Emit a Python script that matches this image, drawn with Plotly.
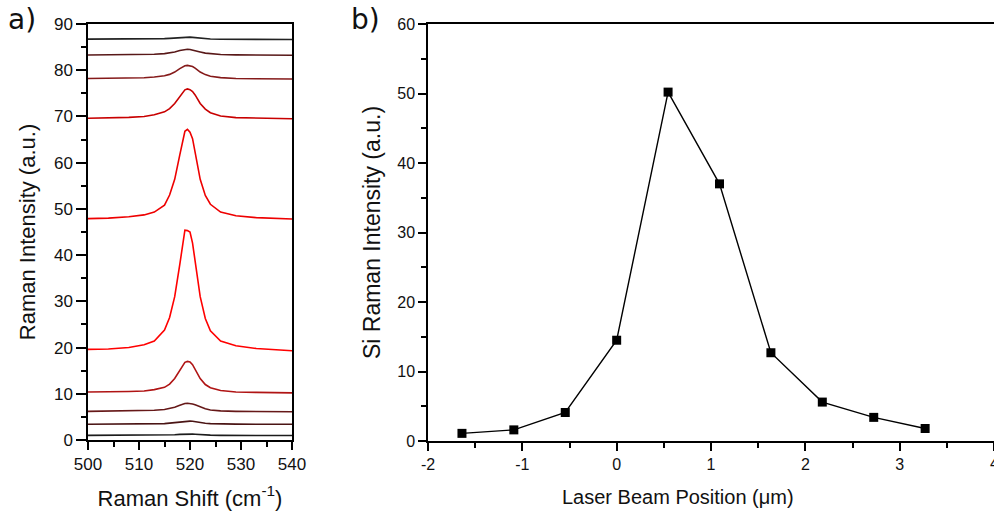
import plotly.graph_objects as go

# ---------- Panel a: Raman spectra (offset stack) ----------
shift = [500, 504, 508, 511, 513, 515, 516, 517, 518, 518.5, 519, 519.5,
         520, 520.5, 521, 522, 523, 524, 526, 529, 533, 537, 540]

spec1 = [1.0, 1.0, 1.0, 1.02, 1.04, 1.07, 1.1, 1.15, 1.22, 1.26, 1.29, 1.3,
         1.29, 1.27, 1.23, 1.15, 1.08, 1.05, 1.0, 0.98, 0.97, 0.96, 0.96]
spec2 = [3.4, 3.4, 3.45, 3.45, 3.5, 3.55, 3.65, 3.75, 3.95, 4.0, 4.08, 4.1,
         4.08, 4.05, 3.95, 3.75, 3.62, 3.55, 3.47, 3.43, 3.4, 3.4, 3.4]
spec3 = [6.2, 6.25, 6.3, 6.35, 6.45, 6.6, 6.8, 7.1, 7.5, 7.75, 7.9, 7.95,
         7.9, 7.8, 7.6, 7.1, 6.75, 6.5, 6.3, 6.2, 6.15, 6.1, 6.1]
spec4 = [10.4, 10.4, 10.5, 10.6, 10.9, 11.4, 12.1, 13.3, 15.1, 16.0, 16.8, 17.0,
         16.9, 16.3, 15.3, 13.3, 12.0, 11.3, 10.7, 10.4, 10.3, 10.2, 10.2]
spec5 = [19.6, 19.7, 20.0, 20.6, 21.4, 23.8, 26.5, 31.0, 38.0, 41.6, 45.4, 45.3,
         45.0, 42.6, 38.8, 31.0, 26.3, 23.6, 21.4, 20.4, 19.8, 19.5, 19.3]
spec6 = [47.9, 48.0, 48.3, 48.7, 49.3, 50.8, 53.0, 56.4, 61.7, 64.4, 66.8, 67.2,
         66.6, 65.2, 62.3, 56.4, 52.9, 51.0, 49.3, 48.5, 48.1, 47.9, 47.8]
spec7 = [69.6, 69.65, 69.8, 70.0, 70.35, 71.0, 71.7, 72.8, 74.4, 75.2, 75.75, 75.95,
         75.8, 75.4, 74.65, 72.8, 71.6, 70.8, 70.1, 69.75, 69.6, 69.5, 69.5]
spec8 = [78.2, 78.22, 78.28, 78.38, 78.53, 78.8, 79.1, 79.6, 80.35, 80.65, 80.95, 81.05,
         81.0, 80.8, 80.45, 79.6, 79.05, 78.7, 78.4, 78.2, 78.15, 78.1, 78.1]
spec9 = [83.3, 83.33, 83.36, 83.4, 83.46, 83.6, 83.73, 83.95, 84.25, 84.4, 84.5, 84.55,
         84.5, 84.4, 84.25, 83.95, 83.7, 83.55, 83.4, 83.32, 83.28, 83.26, 83.25]
spec10 = [86.72, 86.72, 86.74, 86.75, 86.78, 86.84, 86.9, 86.98, 87.1, 87.15, 87.2, 87.2,
          87.15, 87.1, 87.03, 86.9, 86.8, 86.75, 86.7, 86.68, 86.67, 86.66, 86.66]

spectra = [spec1, spec2, spec3, spec4, spec5, spec6, spec7, spec8, spec9, spec10]
spec_colors = ["#1c1c1c", "#4a1414", "#661818", "#b01414", "#ff0000",
               "#ee0000", "#c80000", "#851a1a", "#581818", "#222222"]

# ---------- Panel b: Si Raman intensity vs beam position ----------
position = [-1.64, -1.09, -0.545, 0.0, 0.545, 1.09, 1.635, 2.18, 2.725, 3.27]
si_intensity = [1.1, 1.6, 4.1, 14.5, 50.2, 37.0, 12.7, 5.6, 3.4, 1.8]

xa_ticks = [500, 510, 520, 530, 540]
ya_ticks = [0, 10, 20, 30, 40, 50, 60, 70, 80, 90]
xb_ticks = [-2, -1, 0, 1, 2, 3, 4]
xb_labels = ["-2", "-1", "0", "1", "2", "3", "4"]
yb_ticks = [0, 10, 20, 30, 40, 50, 60]

fig = go.Figure()

for s, c in zip(spectra, spec_colors):
    fig.add_trace(go.Scatter(x=shift, y=s, mode="lines",
                             line=dict(color=c, width=1.6),
                             xaxis="x", yaxis="y", showlegend=False,
                             hoverinfo="skip"))

fig.add_trace(go.Scatter(x=position, y=si_intensity, mode="lines+markers",
                         line=dict(color="black", width=1.4),
                         marker=dict(symbol="square", size=9, color="black"),
                         xaxis="x2", yaxis="y2", showlegend=False))

W, H = 994, 515
FONT = "Liberation Sans"
tickfont_a = dict(family=FONT, size=17, color="#111")
tickfont_b = dict(family=FONT, size=16, color="#111")
titlefont_a = dict(family=FONT, size=22, color="#111")
titlefont_bx = dict(family=FONT, size=20, color="#111")
titlefont_by = dict(family=FONT, size=23, color="#111")

common = dict(showgrid=False, zeroline=False, showline=True, linecolor="black",
              linewidth=1.5, ticks="outside", tickcolor="black", tickwidth=1.5,
              automargin=False)

fig.update_layout(
    width=W, height=H,
    margin=dict(l=0, r=0, t=0, b=0),
    paper_bgcolor="white", plot_bgcolor="white",
    font=dict(family=FONT),
    xaxis=dict(domain=[88 / W, 292 / W], range=[500, 540], tickvals=xa_ticks,
               ticklen=8, mirror=True, tickfont=tickfont_a,
               minor=dict(dtick=5, ticks="outside", ticklen=5, tickcolor="black", tickwidth=1.5),
               title=dict(text="Raman Shift (cm<sup>-1</sup>)", font=titlefont_a, standoff=17),
               anchor="y", **common),
    yaxis=dict(domain=[1 - 440 / H, 1 - 24 / H], range=[0, 90], tickvals=ya_ticks,
               ticklen=10, mirror=True, tickfont=tickfont_a,
               minor=dict(dtick=5, ticks="outside", ticklen=5, tickcolor="black", tickwidth=1.5),
               title=dict(text="Raman Intensity (a.u.)", font=titlefont_a, standoff=12),
               anchor="x", **common),
    xaxis2=dict(domain=[428 / W, 1.0], range=[-2, 4], tickvals=xb_ticks, ticktext=xb_labels,
                ticklen=8, mirror=True, tickfont=tickfont_b,
                minor=dict(dtick=0.5, ticks="outside", ticklen=5, tickcolor="black", tickwidth=1.5),
                anchor="y2", **common),
    yaxis2=dict(domain=[1 - 441 / H, 1 - 24 / H], range=[0, 60], tickvals=yb_ticks,
                ticklen=8, mirror=False, tickfont=tickfont_b,
                minor=dict(dtick=5, ticks="outside", ticklen=5, tickcolor="black", tickwidth=1.5),
                title=dict(text="Si Raman Intensity (a.u.)", font=titlefont_by, standoff=10),
                anchor="x2", **common),
    annotations=[
        dict(text="a)", x=6 / W, y=1 - 20 / H, xref="paper", yref="paper",
             xanchor="left", yanchor="middle", showarrow=False,
             font=dict(family="DejaVu Sans", size=28, color="#111")),
        dict(text="b)", x=349 / W, y=1 - 20 / H, xref="paper", yref="paper",
             xanchor="left", yanchor="middle", showarrow=False,
             font=dict(family="DejaVu Sans", size=28, color="#111")),
        # panel b x-axis title (centred as in the original, left of the axis centre)
        dict(text="Laser Beam Position (\u03bcm)", x=678 / W, y=1 - 497 / H,
             xref="paper", yref="paper", xanchor="center", yanchor="middle",
             showarrow=False, font=titlefont_bx),
        # last x tick label of panel b, cut by the page edge as in the original
        dict(text=xb_labels[-1], x=xb_ticks[-1], xref="x2", y=1 - 463 / H, yref="paper",
             xanchor="center", yanchor="middle", showarrow=False, font=tickfont_b),
    ],
)

fig.write_html("out.html")
